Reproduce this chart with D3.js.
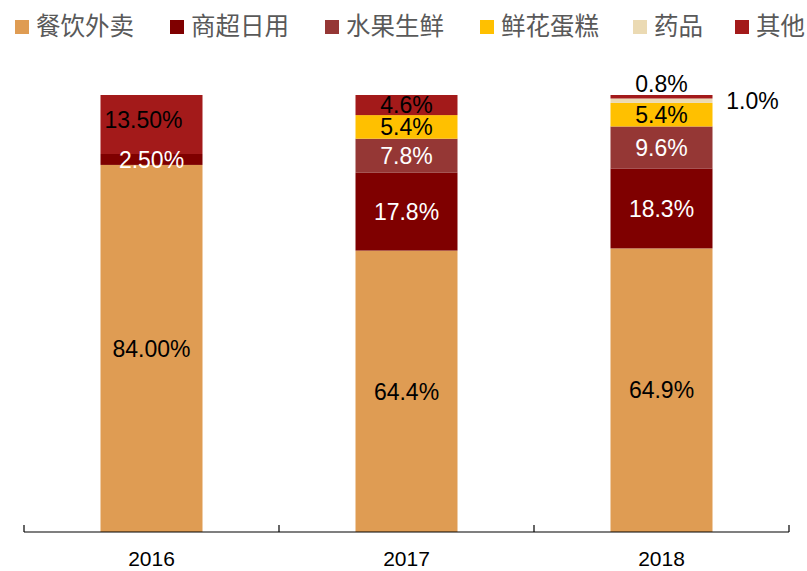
<!DOCTYPE html>
<html>
<head>
<meta charset="utf-8">
<script src="https://cdn.jsdelivr.net/npm/d3@7"></script>
<style>
  body { margin: 0; background: #fff; }
  svg { display: block; font-family: "Liberation Sans", Arial, sans-serif; }
</style>
</head>
<body>
<svg id="chart"></svg>
<script>
// data
const years = ["2016", "2017", "2018"];
const categories = ["餐饮外卖", "商超日用", "水果生鲜", "鲜花蛋糕", "药品", "其他"];
const colors = ["#DF9C53", "#7F0000", "#953735", "#FFC000", "#EBDAB3", "#A31A1A"];
const labelColors = ["#000", "#fff", "#fff", "#000", "#000", "#000"];
const shares = {
    "2016": [84.0, 2.5, 0, 0, 0, 13.5],
    "2017": [64.4, 17.8, 7.8, 5.4, 0, 4.6],
    "2018": [64.9, 18.3, 9.6, 5.4, 1.0, 0.8]
};
const labels = {
    "2016": ["84.00%", "2.50%", "", "", "", "13.50%"],
    "2017": ["64.4%", "17.8%", "7.8%", "5.4%", "", "4.6%"],
    "2018": ["64.9%", "18.3%", "9.6%", "5.4%", "1.0%", "0.8%"]
};

const width = 807;
const height = 571;

const svg = d3.select("#chart")
    .attr("width", width)
    .attr("height", height);

const x = d3.scaleBand()
    .domain(years)
    .range([24, 789])
    .paddingInner(0.6)
    .paddingOuter(0.3);

const y = d3.scaleLinear()
    .domain([0, 100])
    .range([532, 95]);

// stack rows
const rows = years.map(yr => {
    const row = { year: yr };
    categories.forEach((c, i) => row[c] = shares[yr][i]);
    return row;
});
const series = d3.stack().keys(categories)(rows);

const groups = svg.selectAll("g.series")
    .data(series)
    .enter()
    .append("g")
    .attr("class", "series")
    .attr("fill", (d, i) => colors[i]);

groups.selectAll("rect")
    .data(d => d)
    .enter()
    .append("rect")
    .attr("x", d => x(d.data.year))
    .attr("width", x.bandwidth())
    .attr("y", d => y(d[1]))
    .attr("height", d => y(d[0]) - y(d[1]));

// value labels
series.forEach((s, i) => {
    s.forEach(d => {
        const yr = d.data.year;
        const txt = labels[yr][i];
        if (!txt) return;
        let cx = x(yr) + x.bandwidth() / 2;
        let cy = y((d[0] + d[1]) / 2);
        let fill = labelColors[i];
        // small slices in 2018 sit outside the bar
        if (yr === "2018" && categories[i] === "其他") { cy = y(d[1]) - 11; fill = "#000"; }
        if (yr === "2018" && categories[i] === "药品") { cx = x(yr) + x.bandwidth() + 40; cy = y(d[1]) + 2; fill = "#000"; }
        if (yr === "2016" && categories[i] === "其他") { cx -= 8; cy -= 5; }
        svg.append("text")
            .attr("x", cx)
            .attr("y", cy)
            .attr("dy", "0.36em")
            .attr("text-anchor", "middle")
            .attr("font-size", 23)
            .attr("fill", fill)
            .text(txt);
    });
});

// x axis
const axisY = 532;
svg.append("line")
    .attr("x1", 24).attr("x2", 789)
    .attr("y1", axisY).attr("y2", axisY)
    .attr("stroke", "#000").attr("stroke-width", 1.2);

const edges = [24].concat(years.map(yr => x(yr) + x.bandwidth() / 2 + x.step() / 2));
svg.selectAll("line.tick")
    .data(edges)
    .enter()
    .append("line")
    .attr("class", "tick")
    .attr("x1", d => d).attr("x2", d => d)
    .attr("y1", axisY).attr("y2", axisY - 7)
    .attr("stroke", "#000").attr("stroke-width", 1.2);

svg.selectAll("text.year")
    .data(years)
    .enter()
    .append("text")
    .attr("class", "year")
    .attr("x", d => x(d) + x.bandwidth() / 2)
    .attr("y", 566)
    .attr("text-anchor", "middle")
    .attr("font-size", 21)
    .attr("fill", "#000")
    .text(d => d);

// legend
const legendX = [15, 170, 325, 480, 633, 735];
const legend = svg.selectAll("g.legend")
    .data(categories)
    .enter()
    .append("g")
    .attr("class", "legend")
    .attr("transform", (d, i) => `translate(${legendX[i]}, 27)`);

legend.append("rect")
    .attr("x", 0).attr("y", -7)
    .attr("width", 14).attr("height", 14)
    .attr("fill", (d, i) => colors[i]);

legend.append("text")
    .attr("x", 21)
    .attr("y", -1)
    .attr("dy", "0.36em")
    .attr("font-size", 24.5)
    .attr("font-family", "'Noto Sans CJK SC', sans-serif")
    .attr("fill", "#595959")
    .text(d => d);
</script>
</body>
</html>
